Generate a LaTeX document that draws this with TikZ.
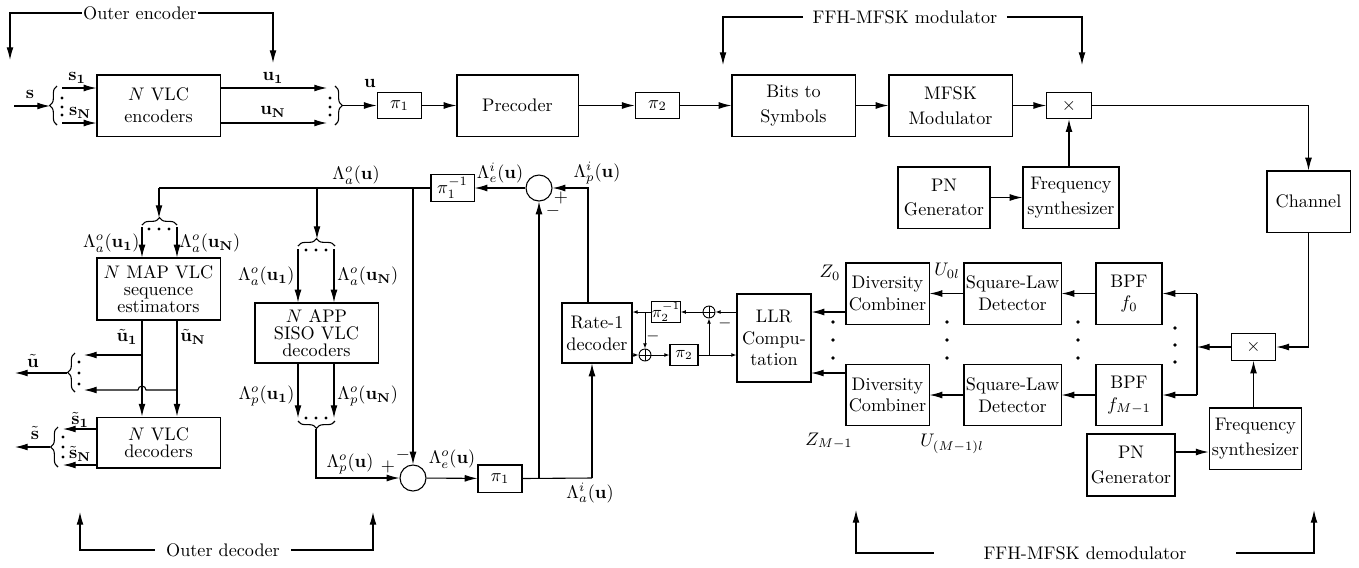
\documentclass[tikz,border=0pt]{standalone}
\usepackage{amsmath,amssymb}
\usepackage{tikz}
\usetikzlibrary{arrows.meta,decorations.pathreplacing}

\begin{document}
\begin{tikzpicture}[x=0.55pt, y=-0.55pt, line width=0.6pt,
  >={Latex[length=7pt,width=3.8pt]},
  blk/.style={draw, align=center, inner sep=0.5pt, minimum height=33.6pt},
  tight/.style={font=\fontsize{10}{9.5}\selectfont},
  perm/.style={draw, inner sep=0pt, minimum width=24.5pt, minimum height=14.5pt},
  sumc/.style={draw, circle, minimum size=14.3pt, inner sep=0pt},
  adder/.style={draw, circle, minimum size=6.6pt, inner sep=0pt, line width=0.5pt,
    path picture={\draw[line width=0.4pt] (path picture bounding box.north) -- (path picture bounding box.south)
      (path picture bounding box.west) -- (path picture bounding box.east);}},
  brc/.style={decorate, decoration={brace, amplitude=4pt}},
  sa/.style={line width=0.5pt, -{Latex[length=2.8pt,width=2.1pt]}},
  lbl/.style={inner sep=0.5pt}]

\useasboundingbox (0,0) rectangle (1359,567);

% ---------------- transmitter ----------------
\node[blk, minimum width=67.7pt] (enc) at (158.5,105.5) {$N$ VLC\\encoders};
\node[perm] (pia) at (399.5,105.5) {$\pi_1$};
\node[blk, minimum width=66.6pt] (prec) at (517.5,105.5) {Precoder};
\node[perm] (pib) at (657.5,105.5) {$\pi_2$};
\node[blk, minimum width=67.7pt] (bits) at (793.5,105.5) {Bits to\\[1.5pt]Symbols};
\node[blk, minimum width=67.7pt] (mfsk) at (950.5,105.5) {MFSK\\[1.5pt]Modulator};
\node[perm] (mult) at (1069,105.5) {$\times$};
\node[blk, minimum width=50.6pt] (pngen) at (944,197.5) {PN\\[1.5pt]Generator};
\node[blk, minimum width=52.8pt] (fsyn) at (1071,197.5) {Frequency\\[1.5pt]synthesizer};
\node[blk, minimum width=45.7pt] (chan) at (1308.5,201.5) {Channel};

\coordinate (sin) at (14,106);
\coordinate (sbr) at (50,106);
\coordinate (s1) at (62,88);
\coordinate (sN) at (62,123);
\coordinate (u1) at (327,88);
\coordinate (uN) at (327,123);
\coordinate (ubr) at (343,105.5);
\draw[->] (sin) -- (sbr);
\draw[brc] (57,125) -- (57,86);
\draw[brc] (335,86) -- (335,125);
\foreach \y in {98,107,115} {
  \fill (62,\y) circle (0.9pt);
  \fill (330,\y) circle (0.9pt);
}
\draw[->] (s1) -- (s1 -| enc.west);
\draw[->] (sN) -- (sN -| enc.west);
\draw[->] (u1 -| enc.east) -- (u1);
\draw[->] (uN -| enc.east) -- (uN);
\draw[->] (ubr) -- (pia);
\draw[->] (pia) -- (prec);
\draw[->] (prec) -- (pib);
\draw[->] (pib) -- (bits);
\draw[->] (bits) -- (mfsk);
\draw[->] (mfsk) -- (mult);
\draw[->] (mult.east) -| (chan.north);
\draw[->] (pngen) -- (fsyn);
\draw[->] (fsyn.north -| mult) -- (mult.south);

\node[lbl] (ls) at (30,94) {$\mathbf{s}$};
\node[lbl] (ls1) at (77,78) {$\mathbf{s_1}$};
\node[lbl] (lsN) at (80,113) {$\mathbf{s_N}$};
\node[lbl] (lu1) at (273,78) {$\mathbf{u_1}$};
\node[lbl] (luN) at (273,112) {$\mathbf{u_N}$};
\node[lbl] (lu) at (370,83) {$\mathbf{u}$};

% group labels
\node[inner sep=0.5pt] (oenc) at (140,13) {Outer encoder};
\coordinate (oencl) at (10,60);
\coordinate (oencr) at (273,63);
\draw[->] (oenc.west) -| (oencl);
\draw[->] (oenc.east) -| (oencr);
\node[inner xsep=5pt] (fmod) at (905,17) {FFH-MFSK modulator};
\coordinate (fmodl) at (723,65);
\coordinate (fmodr) at (1082,65);
\draw[->] (fmod.west) -| (fmodl);
\draw[->] (fmod.east) -| (fmodr);

% ---------------- outer decoder ----------------
\node[perm, minimum width=23.7pt, minimum height=14.9pt] (piai) at (452.5,188) {$\pi_1^{-1}$};
\node[sumc] (suba) at (539,188) {};
\node[blk, tight, minimum width=67.7pt, minimum height=34.1pt] (map) at (158.5,289) {$N$ MAP VLC\\sequence\\estimators};
\node[blk, tight, minimum width=67.7pt, minimum height=33pt] (app) at (316.5,333) {$N$ APP\\SISO VLC\\decoders};
\node[blk, minimum width=67.7pt, minimum height=28pt, font=\fontsize{10}{9}\selectfont] (vdec) at (158.5,442.5) {$N$ VLC\\decoders};
\node[sumc] (subb) at (413,478) {};
\node[perm, minimum width=24.2pt, minimum height=14.9pt] (piab) at (500,478.5) {$\pi_1$};
\node[blk, minimum width=38.5pt, minimum height=33pt] (rate) at (597,333) {Rate-1\\decoder};

\coordinate (ja) at (413,188);
\coordinate (jb) at (317,188);
\coordinate (jc) at (159,188);
\coordinate (mbt) at (159,218);
\coordinate (abt) at (317,239);
\draw (piai.west) -- (jc);
\draw[->] (jc) -- (mbt);
\draw[->] (jb) -- (abt);
\draw[->] (ja) -- (subb.north);
\draw[->] (suba) -- (piai);

% MAP inputs
\draw[brc] (142,225) -- (177,225);
\foreach \x in {149,159,169} \fill (\x,229) circle (0.9pt);
\coordinate (ma1) at (142,227);
\coordinate (maN) at (177,227);
\draw[->] (ma1) -- (ma1 |- map.north);
\draw[->] (maN) -- (maN |- map.north);
\node[lbl, anchor=east] (lma1) at (141,243) {$\Lambda_a^o(\mathbf{u_1})$};
\node[lbl, anchor=west] (lmaN) at (178,243) {$\Lambda_a^o(\mathbf{u_N})$};

% APP inputs
\draw[brc] (298,246) -- (335,246);
\foreach \x in {306,316,326} \fill (\x,250) circle (0.9pt);
\coordinate (aa1) at (298,249);
\coordinate (aaN) at (334,249);
\draw[->] (aa1) -- (aa1 |- app.north);
\draw[->] (aaN) -- (aaN |- app.north);
\node[lbl, anchor=east] (laa1) at (296,276) {$\Lambda_a^o(\mathbf{u_1})$};
\node[lbl, anchor=west] (laaN) at (336,276) {$\Lambda_a^o(\mathbf{u_N})$};
\node[lbl] (lao) at (356,175) {$\Lambda_a^o(\mathbf{u})$};

% APP outputs
\coordinate (ap1) at (298,418);
\coordinate (apN) at (334,418);
\draw[->] (ap1 |- app.south) -- (ap1);
\draw[->] (apN |- app.south) -- (apN);
\foreach \x in {306,316,326} \fill (\x,418) circle (0.9pt);
\draw[brc] (335,421) -- (298,421);
\coordinate (apb) at (316,429);
\draw[->] (apb) |- (subb.west);
\node[lbl, anchor=east] (lap1) at (296,396) {$\Lambda_p^o(\mathbf{u_1})$};
\node[lbl, anchor=west] (lapN) at (336,396) {$\Lambda_p^o(\mathbf{u_N})$};
\node[lbl] (lpo) at (350,464) {$\Lambda_p^o(\mathbf{u})$};
\node[lbl] (lplb) at (388,467) {$+$};
\node[lbl] (lmib) at (403,455) {$-$};

% extrinsic to inner decoder
\draw[->] (subb) -- (piab);
\node[lbl] (leo) at (452,459) {$\Lambda_e^o(\mathbf{u})$};
\coordinate (jd) at (539,478);
\coordinate (je) at (592,478);
\coordinate (jf) at (588,188);
\draw (piab.east) -- (je);
\draw[->] (je) -- (je |- rate.south);
\draw[->] (jd) -- (suba.south);
\node[lbl] (lai) at (590,493) {$\Lambda_a^i(\mathbf{u})$};

% MAP / VLC outputs
\coordinate (cu1) at (142,355);
\coordinate (cuN) at (177,390);
\draw[->] (cu1 |- map.south) -- (cu1 |- vdec.north);
\draw[->] (cuN |- map.south) -- (cuN |- vdec.north);
\draw[->] (cu1) -- (84,355);
\draw[->] (cuN) -- (146,390) arc[start angle=0, end angle=180, radius=2.2pt] -- (84,390);
\draw[brc] (75,392) -- (75,353);
\foreach \y in {362,373,384} \fill (79,\y) circle (0.9pt);
\coordinate (ubt) at (67,373);
\coordinate (uout) at (15,373);
\draw[->] (ubt) -- (uout);
\node[lbl] (lut) at (33,361) {$\tilde{\mathbf{u}}$};
\node[lbl] (lut1) at (127,337) {$\tilde{\mathbf{u}}_{\mathbf{1}}$};
\node[lbl] (lutN) at (193,337) {$\tilde{\mathbf{u}}_{\mathbf{N}}$};

\coordinate (cs1) at (63,429);
\coordinate (csN) at (63,465);
\draw[->] (cs1 -| vdec.west) -- (cs1);
\draw[->] (csN -| vdec.west) -- (csN);
\draw[brc] (58,467) -- (58,427);
\foreach \y in {437,447,457} \fill (63,\y) circle (0.9pt);
\coordinate (sbt) at (50,447);
\coordinate (sout) at (15,447);
\draw[->] (sbt) -- (sout);
\node[lbl] (lst) at (35,433) {$\tilde{\mathbf{s}}$};
\node[lbl] (lst1) at (80,420) {$\tilde{\mathbf{s}}_{\mathbf{1}}$};
\node[lbl] (lstN) at (80,454) {$\tilde{\mathbf{s}}_{\mathbf{N}}$};

\node[inner xsep=6pt] (odec) at (223,550) {Outer decoder};
\coordinate (odecl) at (80,512);
\coordinate (odecr) at (373,512);
\draw[->] (odec.west) -| (odecl);
\draw[->] (odec.east) -| (odecr);

% ---------------- inner decoder ----------------
\node[draw, inner sep=0pt, minimum width=14.3pt, minimum height=11.5pt, font=\small] (pibi) at (666,312) {$\pi_2^{-1}$};
\node[adder] (adda) at (709,312) {};
\node[adder] (addb) at (645,355) {};
\node[draw, inner sep=0pt, minimum width=15.4pt, minimum height=11.5pt, font=\small] (pibb) at (684,355) {$\pi_2$};
\node[blk, minimum width=40.7pt, minimum height=48.4pt] (llr) at (774,338) {LLR\\Compu-\\tation};

\draw[->] (jf |- rate.north) -- (jf) -- (suba.east);
\node[lbl] (lpi) at (597,173) {$\Lambda_p^i(\mathbf{u})$};
\node[lbl] (lei) at (500,173) {$\Lambda_e^i(\mathbf{u})$};
\node[lbl] (lpla) at (561,198) {$+$};
\node[lbl] (lmia) at (553,211) {$-$};

\coordinate (jg) at (645,312);
\coordinate (jh) at (709,355);
\draw[sa] (llr.west |- adda) -- (adda);
\draw[sa] (adda) -- (pibi);
\draw[sa] (pibi) -- (rate.east |- pibi);
\draw[sa] (jg) -- (addb);
\draw[sa] (rate.east |- addb) -- (addb);
\draw[sa] (addb) -- (pibb);
\draw[sa] (pibb) -- (llr.west |- pibb);
\draw[sa] (jh) -- (adda);
\node[lbl, font=\small] (lmic) at (653,336) {$-$};
\node[lbl, font=\small] (lmid) at (725,323) {$-$};

% ---------------- demodulator ----------------
\node[blk, minimum width=45.7pt] (dca) at (887.5,293.5) {Diversity\\Combiner};
\node[blk, minimum width=45.7pt] (dcb) at (887.5,395) {Diversity\\Combiner};
\node[blk, minimum width=53.4pt] (sla) at (1012.5,293.5) {Square-Law\\Detector};
\node[blk, minimum width=53.4pt] (slb) at (1012.5,395) {Square-Law\\Detector};
\node[blk, minimum width=36.3pt] (bpfa) at (1129,293.5) {BPF\\$f_0$};
\node[blk, minimum width=36.3pt] (bpfb) at (1129,395) {BPF\\$f_{M-1}$};
\node[perm] (multb) at (1253.5,347) {$\times$};
\node[blk, minimum width=51pt] (fsynb) at (1255.5,438.5) {Frequency\\[1.5pt]synthesizer};
\node[blk, minimum width=48.4pt, minimum height=34.1pt] (pngenb) at (1131,465) {PN\\[1.5pt]Generator};

\coordinate (jk) at (811,373);
\coordinate (jm) at (1197,347);
\draw[->] (dca.west |- adda) -- (llr.east |- adda);
\draw[->] (dcb.west |- jk) -- (jk);
\draw[->] (sla) -- (dca);
\draw[->] (slb) -- (dcb);
\draw[->] (bpfa) -- (sla);
\draw[->] (bpfb) -- (slb);
\draw[->] (chan.south) |- (multb.east);
\draw[->] (multb) -- (jm);
\draw (jm |- bpfa) -- (jm |- bpfb);
\draw[->] (jm |- bpfa) -- (bpfa);
\draw[->] (jm |- bpfb) -- (bpfb);
\draw[->] (fsynb.north -| multb) -- (multb.south);
\draw[->] ([yshift=7.15pt]pngenb.east) -- ([yshift=7.15pt]pngenb.east -| fsynb.west);

\foreach \y in {322,340,358} {
  \fill (833,\y) circle (1pt);
  \fill (947,\y) circle (1pt);
  \fill (1078,\y) circle (1pt);
}
\foreach \y in {328,345,362} \fill (1175,\y) circle (1pt);

\node[lbl] (lz0) at (830,273) {$Z_0$};
\node[lbl] (lu0) at (947,271) {$U_{0l}$};
\node[lbl] (lzm) at (829,441) {$Z_{M-1}$};
\node[lbl] (lum) at (952,444) {$U_{(M-1)l}$};

\node[inner xsep=27pt] (fdem) at (1085,553) {FFH-MFSK demodulator};
\coordinate (fdeml) at (856,510);
\coordinate (fdemr) at (1314,510);
\draw[->] (fdem.west) -| (fdeml);
\draw[->] (fdem.east) -| (fdemr);
\end{tikzpicture}
\end{document}
